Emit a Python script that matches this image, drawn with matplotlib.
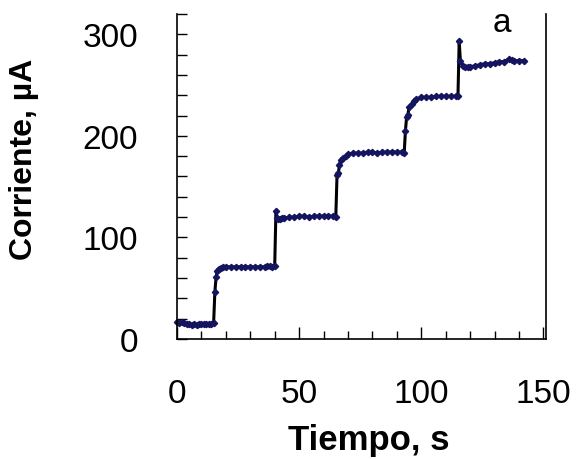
import matplotlib.pyplot as plt
from matplotlib.ticker import MultipleLocator

# chronoamperometry steps
tiempo = [0, 1, 2, 3, 4, 5, 6, 7, 8, 9, 10, 11, 12, 13, 14, 15,
          15.5, 16, 16.5, 17, 18, 19, 20, 22, 24, 26, 28, 30, 32, 34, 36, 37, 38, 39, 40,
          40.5, 41, 41.5, 42, 43, 44, 46, 48, 50, 52, 54, 56, 58, 60, 62, 64, 65,
          65.5, 66, 66.5, 67, 68, 69, 70, 72, 74, 76, 78, 80, 82, 84, 86, 88, 90, 92, 93,
          93.5, 94, 94.5, 95, 96, 97, 98, 100, 102, 104, 106, 108, 110, 112, 114, 115,
          115.5, 116, 117, 118, 119, 120, 122, 124, 126, 128, 130, 132, 134, 136, 137, 138, 140, 142]
corriente = [17, 16, 17, 16, 15, 15, 14, 15, 14, 15, 15, 15, 15, 15, 15, 16,
             46, 61, 67, 69, 70, 70.5, 71, 71, 71, 71, 71, 71, 71, 71, 71, 72, 72, 71, 72,
             126, 119, 118, 118, 119, 119, 120, 120, 121, 121, 120, 121, 121, 121, 121, 121, 120,
             161, 163, 171, 176, 178, 180, 182, 183, 183, 183, 184, 184, 183, 184, 184, 184, 184, 184, 183,
             205, 219, 221, 228, 231, 234, 236, 238, 238, 238, 239, 239, 239, 239, 239, 239,
             293, 274, 269, 268, 268, 268, 269, 270, 271, 271, 272, 273, 273, 276, 275, 274, 274, 274]

x_ticks = [0, 50, 100, 150]
y_ticks = [0, 100, 200, 300]

plt.rcParams['font.family'] = ['Liberation Sans', 'DejaVu Sans']

fig = plt.figure(figsize=(5.87, 4.6), dpi=100)
ax = fig.add_axes([0.3015, 0.2609, 0.6285, 0.7065])

ax.plot(tiempo, corriente, color='black', lw=2.2, marker='D', ms=3.2,
        mfc='#141460', mec='#141460', clip_on=False)

ax.set_xlim(0, 151)
ax.set_ylim(0, 320)
ax.set_xticks(x_ticks)
ax.set_yticks(y_ticks)
ax.xaxis.set_minor_locator(MultipleLocator(10))
ax.yaxis.set_minor_locator(MultipleLocator(20))
ax.tick_params(axis='both', which='both', direction='in', width=1.0,
               labelsize=24, pad=28, right=False, top=False)
ax.tick_params(axis='x', which='major', length=9)
ax.tick_params(axis='x', which='minor', length=6)
ax.tick_params(axis='y', which='both', length=7)

ax.spines['top'].set_visible(False)
for s in ['left', 'right', 'bottom']:
    ax.spines[s].set_linewidth(1.2)

# axis titles placed in figure pixels to match the reference
fig.text(369 / 587, 10 / 460, 'Tiempo, s', fontsize=25, fontweight='bold',
         ha='center', va='baseline')
fig.text(24 / 587, 1 - 159 / 460, 'Corriente, µA', fontsize=23, fontweight='bold',
         ha='center', va='center', rotation=90)

ax.text(132.8, 303, 'a', fontsize=24, ha='center', va='baseline')

fig.savefig('out.png', dpi=100)
